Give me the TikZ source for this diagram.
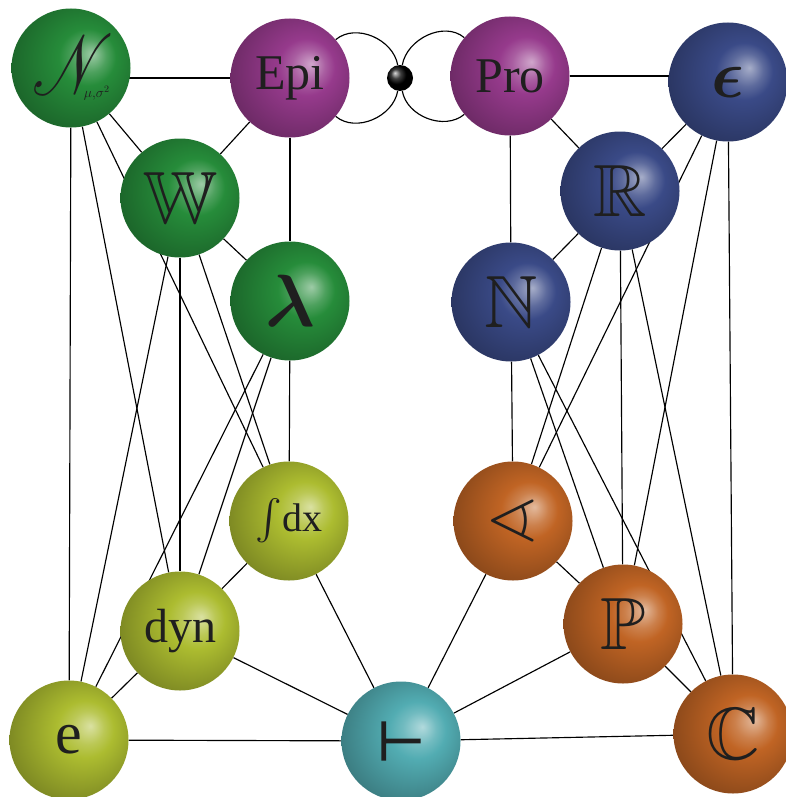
\RequirePackage{fix-cm}
\documentclass[tikz,border=0pt]{standalone}
\usepackage{amsmath,amssymb}
\usepackage{mathrsfs}
\usepackage{fontspec}
\setmainfont{Liberation Serif}
\newfontfamily\symb{DejaVu Sans}[FakeBold=2.5]
\usetikzlibrary{backgrounds}
\makeatletter
\pgfdeclareradialshading[tikz@ball]{softball}{\pgfqpoint{9bp}{6bp}}{%
 color(0bp)=(tikz@ball!45!white);
 color(7bp)=(tikz@ball!82!white);
 color(12bp)=(tikz@ball);
 color(30bp)=(tikz@ball!72!black);
 color(50bp)=(tikz@ball!60!black)}
\makeatother
\definecolor{cgreen}{RGB}{38,140,58}
\definecolor{cpurple}{RGB}{150,58,140}
\definecolor{cblue}{RGB}{58,74,135}
\definecolor{colive}{RGB}{172,188,48}
\definecolor{corange}{RGB}{192,100,36}
\definecolor{cteal}{RGB}{82,172,178}
\tikzset{
  sphere/.style={circle, minimum size=119pt, inner sep=0pt, ball color=#1, shading=softball, text=black!88},
  link/.style={line width=1.15pt, black},
}
\begin{document}
\begin{tikzpicture}[x=1pt,y=-1pt]
\useasboundingbox (0,0) rectangle (786,797);
% nodes
\node[sphere=cgreen] (Np) at (71,68) {\scalebox{6.5}[8.5]{$\mathscr{N}$}\kern-30pt\raisebox{-3pt}{\fontsize{14}{14}\selectfont$\mu,\!\sigma^{2}$}};
\node[sphere=cpurple] (Epi) at (290,78) {\fontsize{50}{50}\selectfont Epi};
\node[sphere=cpurple] (Pro) at (510,76) {\fontsize{50}{50}\selectfont Pro};
\node[sphere=cblue] (eps) at (728,82) {\fontsize{68}{68}\selectfont$\boldsymbol{\epsilon}$};
\node[sphere=cgreen] (W) at (180,198) {\fontsize{74}{74}\selectfont$\mathbb{W}$};
\node[sphere=cblue] (R) at (620,191) {\fontsize{74}{74}\selectfont$\mathbb{R}$};
\node[sphere=cgreen] (lam) at (290,301) {\fontsize{74}{74}\selectfont$\boldsymbol{\lambda}$};
\node[sphere=cblue] (N) at (511,302) {\fontsize{74}{74}\selectfont$\mathbb{N}$};
\node[sphere=colive] (int) at (289,521) {\fontsize{40}{40}\selectfont$\int$dx};
\node[sphere=corange] (ang) at (513,521) {\fontsize{70}{70}\selectfont$\sphericalangle$};
\node[sphere=colive] (dyn) at (180,631) {\fontsize{48}{48}\selectfont dyn};
\node[sphere=corange] (P) at (623,624) {\fontsize{74}{74}\selectfont$\mathbb{P}$};
\node[sphere=colive] (e) at (69,740) {\fontsize{60}{60}\selectfont e};
\node[sphere=cteal] (vd) at (401,741) {\fontsize{54}{54}\selectfont\symb ⊢};
\node[sphere=corange] (C) at (733,734) {\fontsize{74}{74}\selectfont$\mathbb{C}$};
\node[circle, minimum size=26pt, inner sep=0pt, ball color=black] (dot) at (400,78) {};
% connectors
\begin{scope}[on background layer]
\draw[link] (Epi) -- (Epi -| Np);
\draw[link] (Pro) -- (Pro -| eps);
\foreach \a/\b in {Np/e, Np/W, Np/dyn, Np/int,
  Epi/W, Epi/lam, W/lam, W/e, W/dyn, W/int,
  lam/int, lam/e, lam/dyn, int/dyn, int/vd, dyn/e, dyn/vd, e/vd,
  Pro/R, Pro/N, eps/R, eps/C, eps/ang, eps/P,
  R/N, R/ang, R/P, R/C, N/ang, N/P, N/C,
  ang/P, ang/vd, P/C, P/vd, C/vd}
  \draw[link] (\a) -- (\b);
\draw[link] (dot) to[out=100,in=40] (Epi);
\draw[link] (dot) to[out=-100,in=-40] (Epi);
\draw[link] (dot) to[out=80,in=140] (Pro);
\draw[link] (dot) to[out=-80,in=-140] (Pro);
\end{scope}
\end{tikzpicture}
\end{document}
